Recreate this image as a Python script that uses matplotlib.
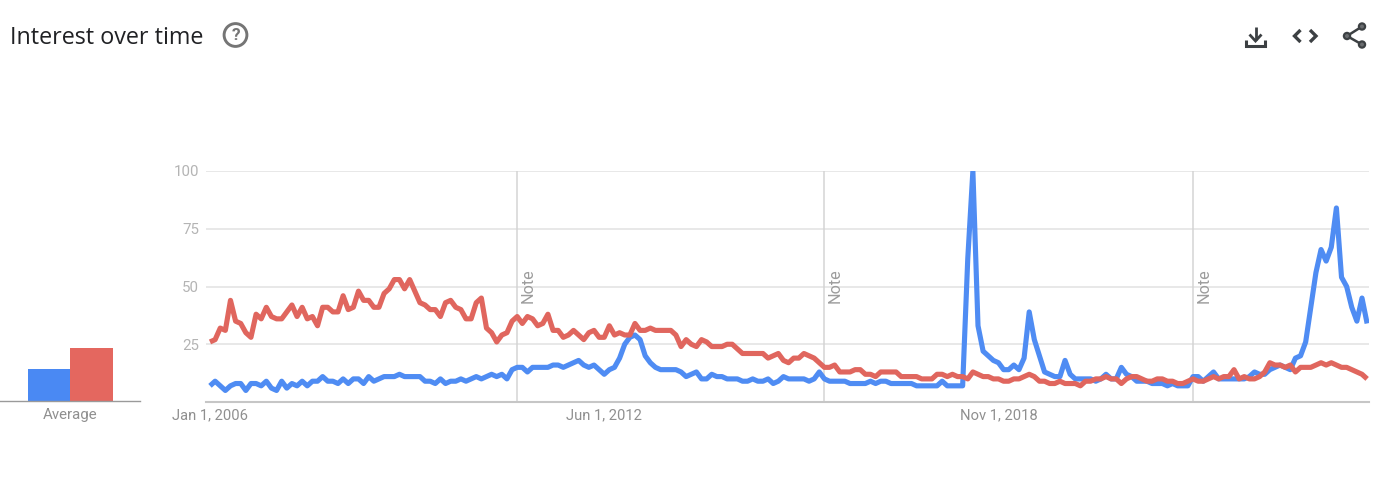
import matplotlib
matplotlib.use("Agg")
import matplotlib.pyplot as plt
from matplotlib.patches import Circle

W, H = 1387, 487

blue_values = [
    7,9,7,5,7,8,8,5,8,8, 7,9,6,5,9,6,8,7,9,7,
    9,9,11,9,9,8,10,8,10,10, 8,11,9,10,11,11,11,12,11,11,
    11,11,9,9,8,10,8,9,9,10, 9,10,11,10,11,12,11,12,10,14,
    15,15,13,15,15,15,15,16,16,15, 16,17,18,16,15,16,14,12,14,15,
    19,25,28,29,27,20,17,15,14,14, 14,14,13,11,12,13,10,10,12,11,
    11,10,10,10,9,9,10,9,9,10, 8,9,11,10,10,10,10,9,10,13,
    10,9,9,9,9,8,8,8,8,9, 8,9,9,8,8,8,8,8,7,7,
    7,7,7,9,7,7,7,7,62,100, 33,22,20,18,17,14,14,16,14,19,
    39,27,20,13,12,11,11,18,12,10, 10,10,10,9,10,12,10,10,15,12,
    11,9,9,9,8,8,8,7,8,7, 7,7,11,11,9,11,13,10,10,10,
    10,10,10,11,13,12,12,14,15,16, 15,14,19,20,26,41,56,66,61,67,
    84,54,50,41,35,45,34,
]
red_values = [
    26,27,32,31,44,35,34,30,28,38, 36,41,37,36,36,39,42,37,41,36,
    37,33,41,41,39,39,46,40,41,48, 44,44,41,41,47,49,53,53,49,53,
    48,43,42,40,40,37,43,44,41,40, 36,36,43,45,32,30,26,29,30,35,
    37,34,37,36,33,34,38,31,31,28, 29,31,29,27,30,31,28,28,33,29,
    30,29,29,34,31,31,32,31,31,31, 31,29,24,27,25,24,27,26,24,24,
    24,25,25,23,21,21,21,21,21,19, 20,21,18,17,19,19,21,20,19,17,
    15,15,16,13,13,13,14,14,12,12, 11,13,13,13,13,11,11,11,11,10,
    10,10,12,12,11,12,11,11,10,13, 12,11,11,10,10,9,9,10,10,11,
    12,11,9,9,8,8,9,8,8,8, 7,9,9,10,10,11,10,10,8,10,
    11,11,10,9,9,10,10,9,9,8, 8,9,10,9,9,10,11,10,11,11,
    14,10,11,10,10,11,13,17,16,16, 15,16,13,15,15,15,16,17,16,17,
    16,15,15,14,13,12,10,
]
average_values = [14, 23]
x_tick_positions = [0, 77, 154]
x_tick_labels = ["Jan 1, 2006", "Jun 1, 2012", "Nov 1, 2018"]
y_ticks = [25, 50, 75, 100]
note_positions = [60, 120, 192]

BLUE = "#4f8cf3"
RED = "#e0665e"
BAR_BLUE = "#4a89f3"
BAR_RED = "#e4675f"
plt.rcParams["font.family"] = "Roboto"

fig = plt.figure(figsize=(W / 100, H / 100), dpi=100, facecolor="white")

def axes_px(x0, y0, x1, y1, **kw):
    return fig.add_axes([x0 / W, 1 - y1 / H, (x1 - x0) / W, (y1 - y0) / H], **kw)

# main chart
ax = axes_px(206, 171, 1369, 402)
PX = 5.12
ax.set_xlim(-4 / PX, (1369 - 210) / PX)
ax.set_ylim(0, 100)
ax.set_yticks(y_ticks)
ax.set_yticklabels([str(v) for v in y_ticks], color="#b4b4b4", fontsize=10.8)
ax.set_xticks(x_tick_positions)
ax.set_xticklabels(x_tick_labels, color="#8f8f8f", fontsize=10.6)
ax.tick_params(axis="both", length=0)
ax.tick_params(axis="x", pad=4.5)
ax.tick_params(axis="y", pad=5)
ax.grid(axis="y", color="#e6e6e6", lw=1.3, zorder=1)
ax.set_axisbelow(True)
for s in ("top", "left", "right"):
    ax.spines[s].set_visible(False)
ax.spines["bottom"].set_color("#c6c6c6")
ax.spines["bottom"].set_linewidth(1.5)

for n in note_positions:
    ax.axvline(n, color="#d4d4d4", lw=1.1, zorder=1.5)
    ax.annotate("Note", xy=(n, 0.428), xycoords=ax.get_xaxis_transform(),
                xytext=(8, 0), textcoords="offset points", rotation=90,
                ha="center", va="bottom", color="#9c9c9c", fontsize=11.6, zorder=2)

ax.plot(range(len(blue_values)), blue_values, color=BLUE, lw=3.7,
        solid_joinstyle="round", solid_capstyle="butt", zorder=3)
ax.plot(range(len(red_values)), red_values, color=RED, lw=3.7,
        solid_joinstyle="round", solid_capstyle="butt", zorder=4)

# average bars
ax2 = axes_px(0, 171, 140, 401)
ax2.bar([0, 1], average_values, width=1, color=[BAR_BLUE, BAR_RED], zorder=2)
ax2.set_xlim(-0.5 - 27.5 / 42.5, 1.5 + 27.5 / 42.5)
ax2.set_ylim(0, 100)
ax2.set_xticks([0.5])
ax2.set_xticklabels(["Average"], color="#8f8f8f", fontsize=10.8)
ax2.set_yticks([])
ax2.tick_params(axis="x", length=0, pad=5.2)
for s in ("top", "left", "right"):
    ax2.spines[s].set_visible(False)
ax2.spines["bottom"].set_color("#9a9a9a")
ax2.spines["bottom"].set_linewidth(1.0)
ax2.patch.set_alpha(0)

# header overlay in pixel coordinates
ov = fig.add_axes([0, 0, 1, 1], facecolor="none")
ov.set_xlim(0, W)
ov.set_ylim(H, 0)
ov.axis("off")
ov.text(10, 38.5, "Interest over time", fontsize=16.8, family="Open Sans",
        color="#202124", va="center", ha="left")
ov.add_patch(Circle((235.5, 35), 11.4, fill=False, ec="#757575", lw=2.1))
ov.text(235.5, 35, "?", fontsize=12.5, fontweight="bold", color="#757575",
        ha="center", va="center")

ICON = "#3c4043"
def stroke(xs, ys, lw=2.0):
    ov.plot(xs, ys, color=ICON, lw=lw, solid_joinstyle="miter", solid_capstyle="butt")

stroke([1255.5, 1255.5], [27, 40])
stroke([1249.5, 1255.5, 1261.5], [34.5, 41, 34.5])
stroke([1246, 1246, 1265, 1265], [40, 45.5, 45.5, 40], lw=2.2)
stroke([1300.5, 1294.5, 1300.5], [30, 36, 42], lw=2.4)
stroke([1310, 1316, 1310], [30, 36, 42], lw=2.4)
stroke([1362, 1347, 1362], [26.5, 36, 44.5], lw=1.8)
for cx, cy in [(1362, 26.5), (1347, 36), (1362, 44.5)]:
    ov.add_patch(Circle((cx, cy), 3.1, fc="#6a6d70", ec=ICON, lw=1.6, zorder=5))

fig.savefig("out.png", dpi=100, facecolor="white")
